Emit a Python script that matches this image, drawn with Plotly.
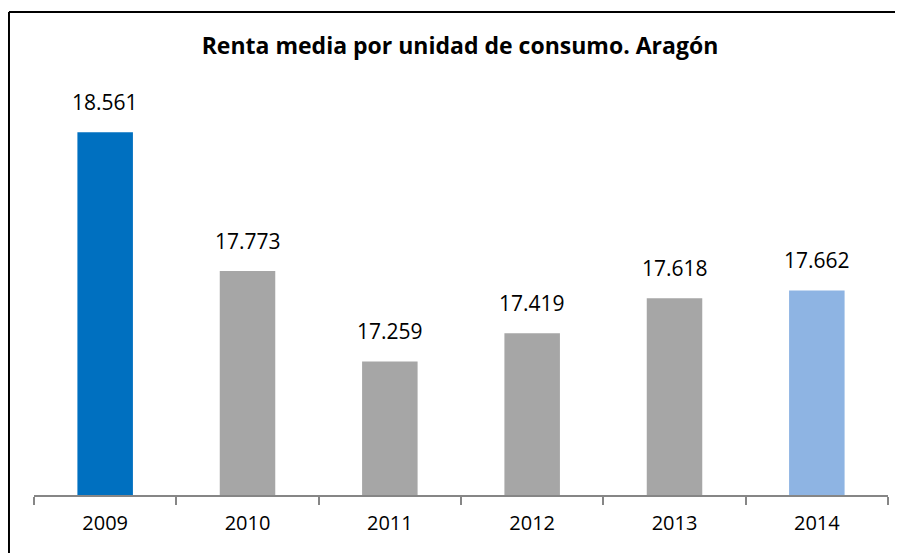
import plotly.graph_objects as go

# data
years = ["2009", "2010", "2011", "2012", "2013", "2014"]
renta = [18.561, 17.773, 17.259, 17.419, 17.618, 17.662]
bar_colors = ["#0070C0", "#A6A6A6", "#A6A6A6", "#A6A6A6", "#A6A6A6", "#8EB4E3"]
value_labels = ["18.561", "17.773", "17.259", "17.419", "17.618", "17.662"]

font_family = "Open Sans"
pos = list(range(len(years)))
# tick marks sit between the categories, Excel style
boundaries = [p - 0.5 for p in pos] + [pos[-1] + 0.5]

fig = go.Figure()
fig.add_trace(go.Bar(x=pos, y=renta, width=0.39, marker=dict(color=bar_colors, line=dict(width=0)),
                     hovertext=years, hoverinfo="text+y"))

# value labels sitting above each bar
for i, val, lbl in zip(pos, renta, value_labels):
    fig.add_annotation(x=i, y=val, text=lbl, showarrow=False, yanchor="middle", yshift=30,
                       font=dict(family=font_family, size=21, color="#000000"))

# outer chart frame: only the top and left edges are visible in the crop
frame = dict(color="#000000", width=2)
fig.add_shape(type="line", xref="paper", yref="paper", x0=-0.0293, x1=1.2, y0=1.0977, y1=1.0977,
              line=frame, layer="below")
fig.add_shape(type="line", xref="paper", yref="paper", x0=-0.0293, x1=-0.0293, y0=-0.3, y1=1.0977,
              line=frame, layer="below")

# figure is a bit smaller than the window so the page's 8px body margin doesn't overflow
fig.update_layout(
    width=895, height=545,
    margin=dict(l=26, r=15, t=47, b=58, autoexpand=False),
    paper_bgcolor="white", plot_bgcolor="white",
    showlegend=False,
    title=dict(text="<b>Renta media por unidad de consumo. Aragón</b>", x=0.505, xanchor="center",
               y=0.930, yanchor="middle", font=dict(family=font_family, size=23, color="#000000")),
    xaxis=dict(range=[boundaries[0], boundaries[-1]], tickvals=pos, ticktext=years, showline=True,
               linecolor="#868686", linewidth=2, ticks="", showgrid=False, zeroline=False,
               ticklabelstandoff=9,
               minor=dict(tickvals=boundaries, ticks="outside", ticklen=8, tickwidth=2,
                          tickcolor="#868686", showgrid=False),
               tickfont=dict(family=font_family, size=20, color="#000000")),
    yaxis=dict(range=[16.5, 19.0], visible=False, showgrid=False, zeroline=False),
)

fig.write_html("out.html")
